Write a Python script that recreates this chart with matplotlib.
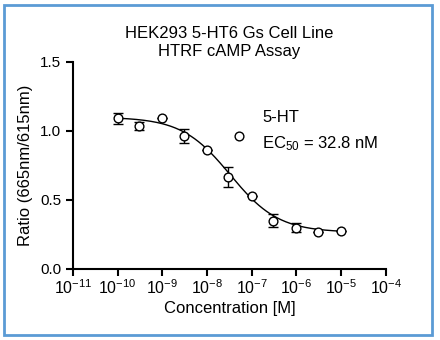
import numpy as np
import matplotlib
matplotlib.use('Agg')
import matplotlib.pyplot as plt
from matplotlib.patches import Rectangle

plt.rcParams['font.family'] = ['Liberation Sans', 'DejaVu Sans']
plt.rcParams['mathtext.fontset'] = 'custom'
plt.rcParams['mathtext.rm'] = 'Liberation Sans'
plt.rcParams['mathtext.it'] = 'Liberation Sans:italic'

# Данные: концентрация (M), среднее отношение и ошибка
conc = [1e-10, 3e-10, 1e-9, 3e-9, 1e-8, 3e-8, 1e-7, 3e-7, 1e-6, 3e-6, 1e-5]
ratio = [1.09, 1.035, 1.095, 0.965, 0.865, 0.665, 0.53, 0.35, 0.30, 0.27, 0.272]
err = [0.04, 0.03, 0.0, 0.05, 0.0, 0.075, 0.0, 0.045, 0.035, 0.0, 0.0]

# Отдельная точка (исключена из подгонки)
outlier_conc = [5.2e-8]
outlier_ratio = [0.965]

# Параметры сигмоиды (4PL)
top, bottom, ec50, hill = 1.10, 0.265, 32.8e-9, 0.8

fig = plt.figure(figsize=(4.4, 3.4), dpi=100)
ax = fig.add_axes([0.166, 0.209, 0.711, 0.609])

# Кривая подгонки
xf = np.logspace(-10, -5, 300)
yf = bottom + (top - bottom) / (1 + (xf / ec50) ** hill)
ax.plot(xf, yf, color='black', lw=1.0)

# Точки с ошибками
ax.errorbar(conc, ratio, yerr=err, fmt='o', mfc='white', mec='black',
            ms=6.3, mew=1.0, ecolor='black', elinewidth=1.0, capsize=3.5, capthick=1.0)
ax.plot(outlier_conc, outlier_ratio, 'o', mfc='white', mec='black', ms=6.3, mew=1.0)

ax.set_xscale('log')
ax.set_xlim(1e-11, 1e-4)
ax.set_ylim(0, 1.5)
ax.set_yticks([0, 0.5, 1.0, 1.5])
ax.set_yticklabels(['0.0', '0.5', '1.0', '1.5'])
ax.set_xticks([10.0 ** k for k in range(-11, -3)])

for s in ['top', 'right']:
    ax.spines[s].set_visible(False)
for s in ['left', 'bottom']:
    ax.spines[s].set_linewidth(1.5)

ax.tick_params(axis='both', which='major', direction='out', length=5, width=1.5, labelsize=11)
ax.tick_params(axis='x', which='major', pad=1.5, labelsize=11.5)
ax.tick_params(axis='x', which='minor', direction='out', length=3, width=1.0)

ax.set_xlabel('Concentration [M]', fontsize=12, labelpad=3)
ax.set_ylabel('Ratio (665nm/615nm)', fontsize=12, labelpad=5)
ax.set_title('HEK293 5-HT6 Gs Cell Line\nHTRF cAMP Assay', fontsize=12, pad=4, linespacing=1.3)

ax.text(0.605, 0.73, '5-HT', transform=ax.transAxes, fontsize=12, va='center')
ax.text(0.605, 0.605, 'EC$_{50}$ = 32.8 nM', transform=ax.transAxes, fontsize=12, va='center')

# Рамка вокруг рисунка
fig.patches.append(Rectangle((0.009, 0.015), 0.973, 0.97, transform=fig.transFigure,
                             fill=False, edgecolor='#5b9bd5', lw=2))

fig.savefig('out.png', dpi=100)
